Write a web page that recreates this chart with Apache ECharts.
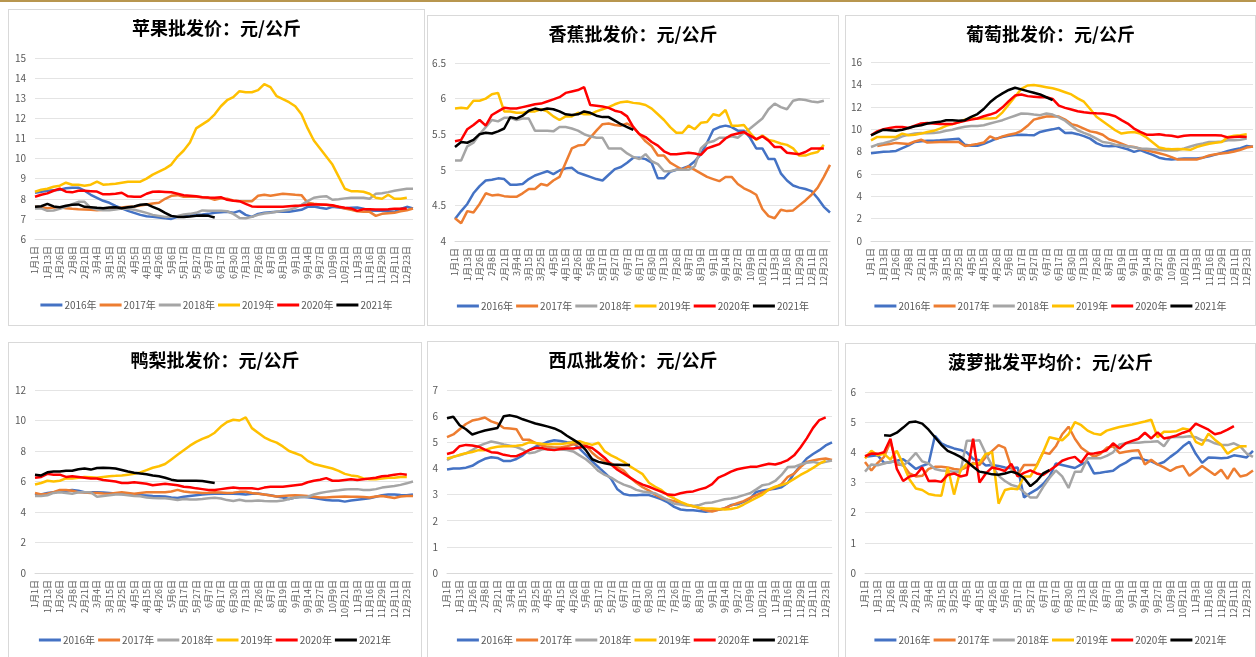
<!DOCTYPE html>
<html>
<head>
<meta charset="utf-8">
<script src="https://cdn.jsdelivr.net/npm/echarts@6/dist/echarts.min.js"></script>
<style>
  body {margin:0; width:1256px; height:657px; background:#fff; position:relative; overflow:hidden;}
  #topline {position:absolute; left:0; top:0; width:1256px; height:2px; background:#b8964f;}
  .panel {position:absolute; border:1px solid #d9d9d9; box-sizing:border-box; background:#fff;}
</style>
</head>
<body>
<div id="topline"></div>
<div class="panel" id="chart1" style="left:8px;top:9px;width:417px;height:317px"></div>
<div class="panel" id="chart2" style="left:427px;top:15px;width:412px;height:311px"></div>
<div class="panel" id="chart3" style="left:845px;top:15px;width:411px;height:311px"></div>
<div class="panel" id="chart4" style="left:8px;top:342px;width:414px;height:320px"></div>
<div class="panel" id="chart5" style="left:427px;top:341px;width:412px;height:320px"></div>
<div class="panel" id="chart6" style="left:845px;top:343px;width:411px;height:320px"></div>
<script>
// 横轴日期（每隔一个显示）
var dates = ['1月1日','1月7日','1月13日','1月19日','1月26日','2月1日','2月8日','2月14日','2月21日','2月27日',
  '3月4日','3月10日','3月15日','3月20日','3月25日','3月30日','4月5日','4月10日','4月15日','4月20日',
  '4月26日','5月1日','5月6日','5月11日','5月17日','5月22日','5月27日','6月1日','6月7日','6月12日',
  '6月17日','6月24日','6月30日','7月6日','7月13日','7月19日','7月26日','8月1日','8月7日','8月13日',
  '8月19日','8月25日','9月1日','9月7日','9月14日','9月20日','9月27日','10月3日','10月9日','10月15日',
  '10月21日','10月27日','11月3日','11月9日','11月16日','11月22日','11月29日','12月5日','12月11日','12月17日',
  '12月23日','12月29日'];
var years = ['2016年','2017年','2018年','2019年','2020年','2021年'];
var colors = ['#4472C4','#ED7D31','#A5A5A5','#FFC000','#FF0000','#000000'];

// 苹果
var apple16 = [8.3,8.35,8.4,8.43,8.45,8.52,8.55,8.55,8.4,8.2,
  8.05,7.9,7.8,7.65,7.52,7.4,7.3,7.2,7.13,7.1,
  7.07,7.03,7.0,7.1,7.15,7.17,7.2,7.22,7.25,7.3,
  7.33,7.35,7.3,7.4,7.2,7.1,7.25,7.3,7.33,7.35,
  7.35,7.35,7.4,7.45,7.6,7.62,7.55,7.5,7.6,7.57,
  7.53,7.55,7.57,7.5,7.42,7.4,7.4,7.38,7.35,7.5,
  7.6,7.52];
var apple17 = [7.6,7.58,7.53,7.57,7.58,7.53,7.5,7.48,7.47,7.45,
  7.43,7.45,7.48,7.52,7.57,7.6,7.62,7.67,7.72,7.77,
  7.8,8.0,8.15,8.18,8.1,8.1,8.1,8.08,8.05,7.95,
  8.02,8.0,7.92,7.88,7.88,7.88,8.15,8.2,8.15,8.2,
  8.25,8.23,8.2,8.18,7.8,7.75,7.72,7.7,7.65,7.6,
  7.52,7.45,7.38,7.35,7.35,7.15,7.25,7.28,7.3,7.38,
  7.43,7.52];
var apple18 = [7.52,7.52,7.4,7.42,7.5,7.6,7.73,7.85,7.85,7.55,
  7.47,7.43,7.43,7.47,7.52,7.5,7.45,7.38,7.3,7.2,
  7.15,7.1,7.12,7.15,7.22,7.25,7.3,7.42,7.41,7.4,
  7.4,7.38,7.25,7.05,7.03,7.1,7.2,7.27,7.3,7.35,
  7.4,7.45,7.55,7.7,7.88,8.05,8.1,8.13,7.95,7.98,
  8.02,8.05,8.05,8.05,8.0,8.25,8.28,8.33,8.4,8.45,
  8.5,8.5];
var apple19 = [8.35,8.45,8.5,8.6,8.65,8.8,8.7,8.7,8.65,8.7,
  8.85,8.7,8.72,8.75,8.8,8.85,8.85,8.85,9.0,9.2,
  9.35,9.5,9.7,10.1,10.4,10.8,11.5,11.7,11.9,12.2,
  12.6,12.9,13.05,13.35,13.3,13.3,13.4,13.7,13.55,13.1,
  12.95,12.8,12.6,12.2,11.5,10.9,10.5,10.1,9.7,9.1,
  8.5,8.38,8.38,8.35,8.25,8.05,8.0,8.2,8.0,8.0,
  8.05];
var apple20 = [8.1,8.2,8.27,8.4,8.5,8.35,8.32,8.4,8.4,8.38,
  8.36,8.22,8.22,8.25,8.3,8.12,8.1,8.1,8.25,8.35,
  8.36,8.34,8.32,8.25,8.18,8.15,8.12,8.08,8.06,8.05,
  8.08,7.95,7.9,7.88,7.75,7.62,7.6,7.6,7.6,7.6,
  7.6,7.63,7.65,7.67,7.7,7.72,7.72,7.7,7.68,7.6,
  7.55,7.52,7.4,7.48,7.48,7.47,7.47,7.48,7.5,7.5,
  7.52];
var apple21 = [7.6,7.63,7.75,7.62,7.58,7.65,7.7,7.72,7.6,7.58,
  7.55,7.53,7.57,7.58,7.53,7.58,7.62,7.7,7.73,7.6,
  7.47,7.3,7.15,7.1,7.1,7.12,7.15,7.17,7.15,7.07];

// 香蕉
var banana16 = [4.31,4.42,4.52,4.67,4.77,4.85,4.86,4.88,4.87,4.79,
  4.79,4.8,4.87,4.92,4.95,4.98,4.94,4.99,5.02,5.03,
  4.96,4.93,4.9,4.87,4.85,4.93,5.01,5.04,5.1,5.17,
  5.17,5.15,5.1,4.88,4.88,4.97,5.0,5.02,5.05,5.12,
  5.22,5.38,5.56,5.6,5.62,5.6,5.55,5.55,5.45,5.3,
  5.3,5.15,5.15,4.95,4.85,4.78,4.75,4.73,4.7,4.6,
  4.48,4.4];
var banana17 = [4.32,4.25,4.42,4.4,4.52,4.67,4.64,4.65,4.63,4.62,
  4.62,4.67,4.73,4.73,4.8,4.78,4.85,4.9,5.1,5.3,
  5.34,5.35,5.45,5.55,5.64,5.65,5.63,5.62,5.65,5.6,
  5.5,5.4,5.33,5.2,5.2,5.1,5.05,5.0,5.05,5.0,
  4.95,4.9,4.87,4.84,4.9,4.9,4.8,4.74,4.7,4.65,
  4.45,4.35,4.32,4.44,4.42,4.43,4.5,4.57,4.65,4.75,
  4.9,5.07];
var banana18 = [5.13,5.13,5.33,5.38,5.5,5.6,5.7,5.68,5.73,5.73,
  5.7,5.72,5.72,5.55,5.55,5.55,5.54,5.6,5.6,5.58,
  5.55,5.5,5.47,5.45,5.45,5.3,5.3,5.3,5.23,5.18,
  5.15,5.22,5.12,5.08,4.98,4.98,5.0,5.0,5.0,5.05,
  5.3,5.38,5.4,5.45,5.45,5.47,5.45,5.52,5.58,5.65,
  5.72,5.85,5.93,5.88,5.85,5.97,5.99,5.98,5.96,5.95,
  5.97];
var banana19 = [5.86,5.87,5.86,5.97,5.97,6.0,6.06,6.08,5.82,5.82,
  5.8,5.8,5.82,5.82,5.85,5.82,5.75,5.7,5.75,5.75,
  5.8,5.78,5.78,5.82,5.85,5.88,5.92,5.95,5.96,5.94,
  5.93,5.91,5.86,5.78,5.7,5.6,5.52,5.52,5.62,5.57,
  5.66,5.67,5.78,5.76,5.84,5.62,5.62,5.63,5.52,5.42,
  5.48,5.42,5.4,5.37,5.35,5.3,5.2,5.2,5.23,5.25,
  5.35];
var banana20 = [5.4,5.42,5.57,5.63,5.7,5.62,5.77,5.82,5.87,5.86,
  5.86,5.88,5.9,5.92,5.93,5.96,5.99,6.02,6.08,6.1,
  6.12,6.16,5.91,5.9,5.89,5.87,5.83,5.81,5.75,5.6,
  5.5,5.46,5.39,5.34,5.26,5.22,5.22,5.23,5.24,5.23,
  5.21,5.3,5.33,5.36,5.44,5.49,5.51,5.53,5.48,5.43,
  5.47,5.41,5.32,5.32,5.24,5.23,5.22,5.25,5.3,5.3,
  5.3];
var banana21 = [5.32,5.39,5.38,5.42,5.5,5.52,5.51,5.54,5.58,5.74,
  5.72,5.76,5.83,5.86,5.84,5.86,5.85,5.82,5.78,5.77,
  5.78,5.82,5.8,5.76,5.74,5.74,5.69,5.64,5.6,5.56];

// 葡萄
var grape16 = [7.85,7.92,7.97,8.0,8.05,8.3,8.55,8.85,8.92,8.95,
  8.97,9.0,9.05,9.1,9.15,8.6,8.52,8.52,8.68,8.9,
  9.15,9.3,9.4,9.47,9.5,9.47,9.45,9.75,9.88,9.98,
  10.1,9.65,9.68,9.55,9.37,9.15,8.75,8.52,8.48,8.5,
  8.35,8.2,7.97,8.12,7.9,7.7,7.45,7.33,7.28,7.32,
  7.37,7.37,7.37,7.45,7.58,7.72,7.88,8.05,8.18,8.3,
  8.5,8.42];
var grape17 = [null,8.5,8.6,8.68,8.77,8.72,8.67,8.9,9.05,8.8,
  8.82,8.85,8.85,8.85,8.85,8.5,8.58,8.68,8.8,9.35,
  9.1,9.35,9.5,9.6,9.85,10.3,10.85,11.0,11.12,11.15,
  11.12,10.85,10.45,10.3,10.05,9.8,9.7,9.5,9.1,8.92,
  8.7,8.48,8.4,8.25,8.1,7.97,7.85,7.7,7.5,7.28,
  7.28,7.28,7.28,7.45,7.65,7.75,7.82,7.88,8.0,8.15,
  8.35,8.45];
var grape18 = [8.4,8.62,8.75,8.9,9.1,9.35,9.5,9.6,9.65,9.62,
  9.65,9.72,9.85,9.95,10.1,10.22,10.27,10.27,10.35,10.5,
  10.65,10.8,11.0,11.2,11.4,11.37,11.3,11.25,11.4,11.3,
  11.05,10.75,10.3,9.9,9.67,9.45,9.15,8.85,8.77,8.6,
  8.55,8.45,8.38,8.27,8.24,8.2,8.15,8.08,8.1,8.12,
  8.28,8.45,8.6,8.72,8.85,8.85,8.9,9.0,9.0,9.05,
  9.15];
var grape19 = [9.0,9.3,9.3,9.3,9.3,9.6,9.45,9.5,9.6,9.75,
  9.85,10.05,10.3,10.45,10.6,10.85,10.95,10.95,10.95,10.95,
  11.0,11.5,12.2,12.9,13.6,13.9,13.95,13.85,13.75,13.65,
  13.5,13.3,13.1,12.75,12.45,11.8,11.1,10.7,10.3,9.9,
  9.6,9.7,9.75,9.6,9.25,8.8,8.35,8.25,8.2,8.22,
  8.2,8.15,8.4,8.55,8.7,8.78,8.85,9.3,9.4,9.45,
  9.55];
var grape20 = [9.45,9.8,10.0,10.1,10.2,10.2,10.1,10.3,10.5,10.55,
  10.5,10.45,10.45,10.45,10.6,10.75,10.85,10.95,11.15,11.3,
  11.5,11.95,12.5,13.0,13.1,12.95,12.9,12.85,12.85,12.7,
  12.1,11.9,11.75,11.6,11.5,11.45,11.42,11.4,11.3,11.15,
  10.8,10.5,10.05,9.75,9.5,9.5,9.55,9.45,9.4,9.3,
  9.4,9.45,9.45,9.45,9.45,9.45,9.42,9.25,9.3,9.35,
  9.3];
var grape21 = [9.45,9.7,9.95,9.9,9.85,9.95,10.1,10.25,10.35,10.5,
  10.6,10.65,10.8,10.8,10.75,10.8,11.1,11.35,11.8,12.4,
  12.85,13.2,13.5,13.7,13.55,13.4,13.25,13.1,12.85,12.6];

// 鸭梨
var pear16 = [5.1,5.15,5.25,5.3,5.35,5.4,5.45,5.4,5.3,5.3,
  5.3,5.28,5.25,5.22,5.18,5.15,5.12,5.1,5.08,5.05,
  5.04,5.02,4.95,4.92,5.0,5.05,5.1,5.15,5.18,5.2,
  5.2,5.2,5.2,5.18,5.15,5.2,5.22,5.15,5.1,5.02,
  4.95,4.85,4.95,5.0,4.97,4.92,4.85,4.78,4.75,4.75,
  4.68,4.75,4.8,4.85,4.9,5.0,5.1,5.15,5.15,5.12,
  5.1,5.15];
var pear17 = [5.25,5.15,5.2,5.3,5.45,5.45,5.4,5.3,5.28,5.25,
  5.25,5.22,5.2,5.25,5.3,5.25,5.2,5.25,5.3,5.3,
  5.3,5.3,5.35,5.45,5.35,5.3,5.28,5.25,5.27,5.3,
  5.28,5.25,5.27,5.32,5.33,5.25,5.2,5.15,5.08,5.02,
  5.05,5.08,5.1,5.08,5.05,5.0,4.95,4.95,4.98,5.0,
  5.02,5.0,5.0,4.98,4.95,5.02,5.05,4.98,4.92,5.02,
  5.05,5.05];
var pear18 = [5.05,5.05,5.1,5.25,5.3,5.25,5.2,5.3,5.3,5.3,
  5.0,5.05,5.1,5.15,5.15,5.1,5.05,5.03,4.95,4.92,
  4.9,4.9,4.85,4.78,4.85,4.82,4.82,4.85,4.9,4.93,
  4.88,4.78,4.72,4.8,4.72,4.72,4.76,4.72,4.7,4.7,
  4.75,4.85,4.95,4.98,5.0,5.15,5.25,5.32,5.38,5.42,
  5.48,5.5,5.5,5.45,5.45,5.5,5.6,5.65,5.7,5.78,
  5.88,6.0];
var pear19 = [5.8,5.9,6.05,6.0,6.05,6.2,6.2,6.25,6.3,6.28,
  6.25,6.3,6.35,6.37,6.4,6.45,6.5,6.6,6.75,6.9,
  7.0,7.15,7.45,7.75,8.05,8.35,8.6,8.8,8.95,9.2,
  9.6,9.9,10.05,10.0,10.2,9.5,9.2,8.9,8.7,8.55,
  8.3,8.0,7.85,7.7,7.35,7.15,7.05,6.95,6.85,6.7,
  6.5,6.4,6.35,6.2,6.15,6.15,6.2,6.25,6.25,6.3,
  6.3];
var pear20 = [6.25,6.3,6.5,6.45,6.45,6.3,6.35,6.3,6.25,6.2,
  6.2,6.1,6.05,6.0,5.9,5.9,5.95,5.9,5.85,5.75,
  5.8,5.85,5.8,5.75,5.65,5.62,5.55,5.5,5.45,5.45,
  5.5,5.55,5.6,5.55,5.55,5.55,5.5,5.6,5.65,5.65,
  5.65,5.7,5.75,5.8,5.95,6.05,6.12,6.22,6.05,6.05,
  6.1,6.15,6.1,6.15,6.2,6.25,6.35,6.38,6.45,6.5,
  6.45];
var pear21 = [6.45,6.4,6.6,6.65,6.65,6.7,6.7,6.8,6.85,6.78,
  6.88,6.9,6.88,6.85,6.75,6.65,6.58,6.52,6.48,6.4,
  6.35,6.25,6.12,6.05,6.05,6.05,6.05,6.03,5.97,5.9];

// 西瓜
var melon16 = [3.96,4.0,4.0,4.03,4.1,4.25,4.37,4.43,4.4,4.28,
  4.28,4.36,4.5,4.7,4.83,4.92,5.02,5.08,5.05,5.0,
  4.98,4.76,4.52,4.27,4.05,3.83,3.6,3.2,3.02,2.97,
  2.97,2.99,2.98,2.9,2.82,2.7,2.53,2.43,2.4,2.4,
  2.37,2.34,2.38,2.42,2.47,2.6,2.63,2.72,2.84,3.1,
  3.16,3.19,3.22,3.28,3.45,3.8,4.1,4.38,4.55,4.7,
  4.88,5.0];
var melon17 = [5.2,5.3,5.5,5.7,5.83,5.88,5.95,5.8,5.72,5.55,
  5.53,5.5,5.1,5.1,4.98,4.88,4.82,4.8,4.8,4.85,
  4.92,4.93,4.88,4.6,4.4,4.28,4.2,4.05,3.92,3.65,
  3.45,3.28,3.15,3.0,2.87,2.8,2.75,2.67,2.6,2.56,
  2.48,2.4,2.35,2.42,2.48,2.58,2.67,2.75,2.87,2.98,
  3.08,3.18,3.28,3.4,3.68,3.8,4.05,4.25,4.3,4.35,
  4.38,4.32];
var melon18 = [4.32,4.45,4.5,4.58,4.7,4.85,4.95,5.03,4.98,4.92,
  4.87,4.82,4.72,4.58,4.62,4.72,4.75,4.74,4.72,4.7,
  4.65,4.5,4.35,4.15,3.9,3.75,3.65,3.5,3.38,3.3,
  3.18,3.12,3.08,3.05,2.92,2.78,2.65,2.62,2.58,2.56,
  2.6,2.68,2.7,2.76,2.82,2.85,2.9,2.98,3.05,3.2,
  3.36,3.4,3.52,3.75,4.05,4.06,4.15,4.22,4.25,4.2,
  4.25,4.3];
var melon19 = [4.38,4.44,4.52,4.58,4.63,4.7,4.7,4.78,4.83,4.85,
  4.85,4.87,4.9,5.0,4.97,4.94,4.92,4.93,4.93,4.96,
  5.0,5.04,4.96,4.9,4.98,4.65,4.5,4.38,4.25,4.08,
  3.93,3.78,3.45,3.3,3.17,2.97,2.85,2.72,2.62,2.55,
  2.5,2.47,2.47,2.45,2.43,2.45,2.5,2.62,2.75,2.87,
  3.0,3.2,3.3,3.36,3.45,3.6,3.75,3.88,4.02,4.18,
  4.3];
var melon20 = [4.55,4.62,4.85,4.9,4.88,4.83,4.72,4.62,4.6,4.52,
  4.48,4.47,4.58,4.7,4.78,4.78,4.72,4.7,4.74,4.76,
  4.76,4.8,4.85,4.78,4.6,4.4,4.15,3.95,3.8,3.65,
  3.5,3.38,3.3,3.2,3.1,3.0,2.98,3.05,3.1,3.12,
  3.2,3.26,3.4,3.65,3.75,3.88,3.97,4.02,4.06,4.06,
  4.12,4.18,4.15,4.22,4.32,4.5,4.8,5.15,5.55,5.85,
  5.95];
var melon21 = [5.92,5.98,5.65,5.5,5.3,5.38,5.45,5.5,5.55,6.0,
  6.03,5.98,5.88,5.8,5.72,5.66,5.6,5.53,5.42,5.25,
  5.1,4.95,4.7,4.35,4.25,4.2,4.15,4.14,4.13,4.13];

// 菠萝
var pine16 = [3.85,3.88,3.9,3.65,3.67,3.72,3.77,3.62,3.45,3.55,
  3.63,4.55,4.3,4.2,4.13,4.08,4.0,3.78,3.74,3.56,
  3.58,3.55,3.5,3.47,3.5,2.5,2.65,2.77,2.95,3.2,
  3.63,3.58,3.53,3.48,3.6,3.69,3.3,3.32,3.36,3.39,
  3.55,3.66,3.8,3.82,3.75,3.7,3.6,3.68,3.85,4.0,
  4.2,4.35,3.95,3.65,3.83,3.82,3.8,3.82,3.9,3.87,
  3.83,4.05];
var pine17 = [3.68,3.4,3.65,3.85,4.35,3.6,3.58,3.3,3.2,3.22,
  3.45,3.52,3.52,3.5,3.45,3.42,3.5,3.65,3.58,3.85,
  4.05,4.24,4.15,3.5,3.25,3.58,3.58,3.58,4.0,3.95,
  4.2,4.6,4.85,4.45,4.15,4.0,3.85,3.95,4.15,4.2,
  3.98,4.02,4.05,4.07,3.6,3.75,3.6,3.5,3.38,3.5,
  3.55,3.22,3.38,3.55,3.4,3.25,3.42,3.12,3.47,3.2,
  3.25,3.4];
var pine18 = [3.36,3.6,3.57,3.63,3.69,3.69,3.55,3.75,3.98,3.7,
  3.63,3.45,3.4,3.38,3.36,3.36,4.38,4.38,4.4,3.95,
  3.55,3.22,3.05,2.92,2.86,2.68,2.5,2.5,2.85,3.15,
  3.4,3.2,2.82,3.36,3.36,3.8,3.8,3.8,3.88,4.0,
  4.26,4.3,4.32,4.32,4.34,4.35,4.37,4.2,4.5,4.51,
  4.51,4.53,4.5,4.4,4.4,4.3,4.24,4.24,4.3,4.2,
  3.96,3.85];
var pine19 = [3.8,4.05,3.9,3.95,3.76,4.05,3.6,3.1,2.8,2.75,
  2.62,2.58,2.56,3.5,2.6,3.4,3.62,3.6,3.65,3.95,
  4.0,2.3,2.75,2.8,2.78,3.2,3.2,3.55,4.0,4.5,
  4.45,4.4,4.6,5.0,4.9,4.72,4.62,4.58,4.72,4.78,
  4.84,4.88,4.92,4.97,5.02,5.08,4.5,4.68,4.68,4.7,
  4.79,4.75,4.35,4.25,4.62,4.42,4.25,3.95,4.1,4.2,
  4.2];
var pine20 = [3.87,3.96,3.95,4.0,4.45,3.45,3.05,3.2,3.25,3.5,
  3.05,3.06,3.02,3.25,3.3,3.2,3.25,4.45,3.0,3.3,
  3.5,3.45,3.38,3.62,3.2,3.32,3.4,3.3,3.25,3.4,
  3.55,3.72,3.8,3.85,3.66,3.95,3.96,4.0,4.07,4.3,
  4.13,4.3,4.38,4.45,4.65,4.46,4.66,4.46,4.5,4.56,
  4.65,4.72,4.95,4.85,4.75,4.6,4.65,4.75,4.87];
var pine21 = [null,null,null,4.57,4.55,4.65,4.82,5.0,5.02,4.95,
  4.75,4.5,4.25,4.05,3.96,3.85,3.7,3.52,3.36,3.32,
  3.27,3.26,3.3,3.36,3.3,3.15,2.88,3.05,3.3,3.41];

// 每个面板的位置（页面绝对坐标）
var panels = [
  {id:'chart1', title:'苹果批发价：元/公斤', box:[8,9], grid:[35,58,413,239], titleY:31, legendY:307,
   min:6, max:15, step:1, data:[apple16,apple17,apple18,apple19,apple20,apple21]},
  {id:'chart2', title:'香蕉批发价：元/公斤', box:[427,15], grid:[455,63,830,241], titleY:37, legendY:308,
   min:4, max:6.5, step:0.5, data:[banana16,banana17,banana18,banana19,banana20,banana21]},
  {id:'chart3', title:'葡萄批发价：元/公斤', box:[845,15], grid:[871,62,1253,241], titleY:37, legendY:308,
   min:0, max:16, step:2, data:[grape16,grape17,grape18,grape19,grape20,grape21]},
  {id:'chart4', title:'鸭梨批发价：元/公斤', box:[8,342], grid:[35,390,413,573], titleY:363, legendY:642,
   min:0, max:12, step:2, data:[pear16,pear17,pear18,pear19,pear20,pear21]},
  {id:'chart5', title:'西瓜批发价：元/公斤', box:[427,341], grid:[447,390,832,573], titleY:363, legendY:642,
   min:0, max:7, step:1, data:[melon16,melon17,melon18,melon19,melon20,melon21]},
  {id:'chart6', title:'菠萝批发平均价：元/公斤', box:[845,343], grid:[865,392,1253,573], titleY:365, legendY:642,
   min:0, max:6, step:1, data:[pine16,pine17,pine18,pine19,pine20,pine21]}
];

function drawPanel(p) {
  var chart = echarts.init(document.getElementById(p.id));
  var ox = p.box[0] + 1, oy = p.box[1] + 1;
  chart.setOption({
    animation: false,
    textStyle: {fontFamily: 'Noto Sans CJK SC'},
    title: {text: p.title, left: 'center', top: p.titleY - oy - 12, padding: 0,
      textStyle: {fontSize: 18, fontWeight: 'bold', color: '#000', fontFamily: 'Noto Sans CJK SC'}},
    legend: {data: years, left: 'center', top: p.legendY - oy - 7, padding: 0,
      icon: 'rect', itemWidth: 22, itemHeight: 3, itemGap: 3,
      textStyle: {fontSize: 10, color: '#595959', padding: [0, 0, 0, -3]}},
    grid: {left: p.grid[0] - ox, top: p.grid[1] - oy, width: p.grid[2] - p.grid[0], height: p.grid[3] - p.grid[1]},
    xAxis: {type: 'category', boundaryGap: false, data: dates,
      axisLine: {lineStyle: {color: '#d9d9d9'}}, axisTick: {show: false},
      axisLabel: {rotate: 90, interval: 1, fontSize: 9, color: '#595959', margin: 7}},
    yAxis: {type: 'value', min: p.min, max: p.max, interval: p.step,
      axisLine: {show: false}, axisTick: {show: false},
      splitLine: {lineStyle: {color: '#e4e4e4'}},
      axisLabel: {fontSize: 10, color: '#595959', margin: 9}},
    series: p.data.map(function(d, i) {
      return {name: years[i], type: 'line', data: d, showSymbol: false, symbol: 'none',
        lineStyle: {width: 2.5, color: colors[i]}, itemStyle: {color: colors[i]}};
    })
  });
}

for (var i = 0; i < panels.length; i++) {
  drawPanel(panels[i]);
}
</script>
</body>
</html>
